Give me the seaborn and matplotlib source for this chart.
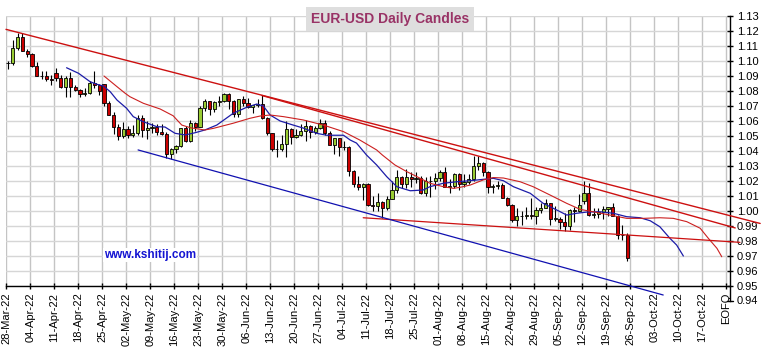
import numpy as np
import matplotlib
matplotlib.use("Agg")
import matplotlib.pyplot as plt
import matplotlib.transforms as mtransforms
import seaborn as sns

# EUR-USD daily OHLC, one entry per weekday from 28-Mar-22 to 23-Sep-22
opens = [1.0985, 1.0987, 1.1087, 1.1159, 1.1067, 1.1046, 1.0970, 1.0903, 1.0901, 1.0880,
         1.0920, 1.0887, 1.0828, 1.0888, 1.0826, 1.0810, 1.0779, 1.0787, 1.0853, 1.0838,
         1.0845, 1.0718, 1.0641, 1.0559, 1.0500, 1.0544, 1.0507, 1.0523, 1.0621, 1.0541,
         1.0551, 1.0560, 1.0530, 1.0514, 1.0380, 1.0412, 1.0436, 1.0551, 1.0466, 1.0585,
         1.0563, 1.0690, 1.0734, 1.0677, 1.0724, 1.0732, 1.0781, 1.0733, 1.0650, 1.0749,
         1.0719, 1.0695, 1.0705, 1.0716, 1.0617, 1.0518, 1.0411, 1.0415, 1.0446, 1.0547,
         1.0495, 1.0508, 1.0536, 1.0565, 1.0525, 1.0553, 1.0584, 1.0520, 1.0442, 1.0484,
         1.0427, 1.0424, 1.0266, 1.0181, 1.0161, 1.0180, 1.0040, 1.0036, 1.0060, 1.0020,
         1.0081, 1.0142, 1.0226, 1.0180, 1.0229, 1.0213, 1.0222, 1.0119, 1.0200, 1.0197,
         1.0221, 1.0260, 1.0163, 1.0167, 1.0246, 1.0181, 1.0196, 1.0212, 1.0298, 1.0321,
         1.0258, 1.0160, 1.0170, 1.0174, 1.0089, 1.0039, 0.9942, 0.9969, 0.9966, 0.9973,
         0.9966, 1.0004, 1.0018, 1.0055, 0.9946, 0.9950, 0.9927, 0.9903, 1.0010, 0.9997,
         1.0065, 1.0122, 0.9975, 0.9980, 0.9996, 1.0015, 1.0027, 0.9970, 0.9838, 0.9837]
highs = [1.1000, 1.1137, 1.1185, 1.1184, 1.1077, 1.1054, 1.0994, 1.0936, 1.0935, 1.0905,
         1.0955, 1.0904, 1.0897, 1.0924, 1.0839, 1.0815, 1.0819, 1.0869, 1.0936, 1.0848,
         1.0850, 1.0736, 1.0658, 1.0582, 1.0594, 1.0566, 1.0576, 1.0641, 1.0642, 1.0599,
         1.0590, 1.0578, 1.0577, 1.0530, 1.0420, 1.0441, 1.0556, 1.0565, 1.0607, 1.0594,
         1.0697, 1.0749, 1.0736, 1.0734, 1.0765, 1.0787, 1.0785, 1.0737, 1.0750, 1.0764,
         1.0752, 1.0710, 1.0748, 1.0774, 1.0625, 1.0520, 1.0474, 1.0506, 1.0601, 1.0551,
         1.0545, 1.0582, 1.0606, 1.0576, 1.0569, 1.0615, 1.0606, 1.0536, 1.0486, 1.0486,
         1.0464, 1.0436, 1.0276, 1.0232, 1.0187, 1.0184, 1.0097, 1.0122, 1.0066, 1.0097,
         1.0200, 1.0272, 1.0232, 1.0278, 1.0258, 1.0258, 1.0234, 1.0224, 1.0234, 1.0254,
         1.0275, 1.0294, 1.0214, 1.0254, 1.0252, 1.0248, 1.0250, 1.0368, 1.0364, 1.0324,
         1.0266, 1.0183, 1.0202, 1.0188, 1.0095, 1.0044, 1.0018, 0.9999, 1.0030, 1.0090,
         1.0028, 1.0055, 1.0080, 1.0056, 1.0033, 0.9960, 0.9989, 1.0012, 1.0030, 1.0113,
         1.0198, 1.0185, 1.0020, 1.0018, 1.0036, 1.0030, 1.0051, 0.9975, 0.9907, 0.9853]
lows = [1.0945, 1.0975, 1.1075, 1.1065, 1.1028, 1.0962, 1.0900, 1.0877, 1.0866, 1.0837,
        1.0870, 1.0820, 1.0757, 1.0759, 1.0797, 1.0758, 1.0769, 1.0781, 1.0818, 1.0772,
        1.0698, 1.0637, 1.0515, 1.0471, 1.0490, 1.0490, 1.0491, 1.0504, 1.0493, 1.0483,
        1.0523, 1.0510, 1.0508, 1.0354, 1.0350, 1.0389, 1.0430, 1.0460, 1.0460, 1.0533,
        1.0557, 1.0667, 1.0642, 1.0660, 1.0698, 1.0727, 1.0680, 1.0627, 1.0629, 1.0700,
        1.0688, 1.0653, 1.0693, 1.0615, 1.0506, 1.0398, 1.0358, 1.0398, 1.0360, 1.0444,
        1.0484, 1.0501, 1.0469, 1.0485, 1.0514, 1.0549, 1.0506, 1.0437, 1.0383, 1.0366,
        1.0405, 1.0235, 1.0162, 1.0143, 1.0072, 1.0033, 1.0000, 0.9998, 0.9952, 1.0008,
        1.0078, 1.0123, 1.0153, 1.0153, 1.0162, 1.0188, 1.0112, 1.0098, 1.0096, 1.0145,
        1.0199, 1.0159, 1.0123, 1.0153, 1.0141, 1.0159, 1.0183, 1.0200, 1.0276, 1.0235,
        1.0122, 1.0122, 1.0150, 1.0084, 1.0034, 0.9927, 0.9901, 0.9910, 0.9950, 0.9949,
        0.9915, 0.9990, 1.0018, 0.9910, 0.9935, 0.9877, 0.9864, 0.9875, 0.9930, 0.9995,
        1.0050, 0.9966, 0.9954, 0.9956, 0.9945, 0.9966, 0.9965, 0.9811, 0.9807, 0.9668]
closes = [1.0987, 1.1087, 1.1159, 1.1067, 1.1046, 1.0970, 1.0903, 1.0901, 1.0880, 1.0876,
          1.0887, 1.0828, 1.0888, 1.0826, 1.0810, 1.0779, 1.0787, 1.0853, 1.0838, 1.0799,
          1.0718, 1.0641, 1.0559, 1.0500, 1.0544, 1.0507, 1.0523, 1.0621, 1.0541, 1.0551,
          1.0560, 1.0530, 1.0514, 1.0380, 1.0412, 1.0436, 1.0551, 1.0466, 1.0585, 1.0563,
          1.0690, 1.0734, 1.0677, 1.0724, 1.0732, 1.0781, 1.0733, 1.0650, 1.0749, 1.0719,
          1.0695, 1.0705, 1.0716, 1.0617, 1.0518, 1.0411, 1.0415, 1.0446, 1.0547, 1.0495,
          1.0508, 1.0536, 1.0565, 1.0525, 1.0553, 1.0584, 1.0520, 1.0442, 1.0484, 1.0427,
          1.0424, 1.0266, 1.0181, 1.0161, 1.0180, 1.0040, 1.0036, 1.0060, 1.0020, 1.0081,
          1.0142, 1.0226, 1.0180, 1.0229, 1.0213, 1.0222, 1.0119, 1.0200, 1.0197, 1.0221,
          1.0260, 1.0163, 1.0167, 1.0246, 1.0181, 1.0196, 1.0212, 1.0298, 1.0321, 1.0258,
          1.0160, 1.0170, 1.0174, 1.0089, 1.0039, 0.9942, 0.9969, 0.9966, 0.9973, 0.9966,
          1.0004, 1.0018, 1.0055, 0.9946, 0.9953, 0.9927, 0.9903, 1.0010, 0.9997, 1.0041,
          1.0122, 0.9975, 0.9980, 0.9996, 1.0015, 1.0027, 0.9970, 0.9838, 0.9837, 0.9690]

# weekly axis labels (Mondays), the last slot marks end of quarter
week_labels = ["28-Mar-22", "04-Apr-22", "11-Apr-22", "18-Apr-22", "25-Apr-22",
               "02-May-22", "09-May-22", "16-May-22", "23-May-22", "30-May-22",
               "06-Jun-22", "13-Jun-22", "20-Jun-22", "27-Jun-22", "04-Jul-22",
               "11-Jul-22", "18-Jul-22", "25-Jul-22", "01-Aug-22", "08-Aug-22",
               "15-Aug-22", "22-Aug-22", "29-Aug-22", "05-Sep-22", "12-Sep-22",
               "19-Sep-22", "26-Sep-22", "03-Oct-22", "10-Oct-22", "17-Oct-22", "EOFQ"]
price_ticks = [0.95, 0.96, 0.97, 0.98, 0.99, 1.00, 1.01, 1.02, 1.03, 1.04,
               1.05, 1.06, 1.07, 1.08, 1.09, 1.10, 1.11, 1.12, 1.13]
extra_tick = 0.94

# displaced moving averages (position in trading days, level)
fast_ma_x = [12.2, 14.7, 17.1, 18.5, 19.9, 21.3, 22.7, 24.7, 26.1, 28.2, 31.0, 32.7, 34.8,
             36.9, 39.0, 41.0, 43.5, 46.9, 49.7, 51.8, 53.2, 54.6, 56.7, 59.4, 61.5, 64.3,
             66.4, 69.9, 71.3, 72.6, 74.7, 76.8, 78.9, 81.0, 83.8, 86.5, 87.9, 90.7, 93.5,
             96.3, 99.0, 101.1, 103.2, 105.3, 108.8, 111.5, 114.3, 116.4, 118.5, 120.6,
             123.3, 126.1, 128.9, 131.7, 133.8, 135.8, 137.9, 139.3, 140.7]
fast_ma_y = [1.0955, 1.0918, 1.0862, 1.0845, 1.0833, 1.0795, 1.0740, 1.0685, 1.0629, 1.0595,
             1.0562, 1.0560, 1.0518, 1.0507, 1.0522, 1.0540, 1.0573, 1.0651, 1.0691, 1.0713,
             1.0700, 1.0640, 1.0600, 1.0573, 1.0553, 1.0518, 1.0505, 1.0505, 1.0473, 1.0453,
             1.0373, 1.0307, 1.0229, 1.0162, 1.0135, 1.0140, 1.0162, 1.0185, 1.0195, 1.0202,
             1.0211, 1.0218, 1.0202, 1.0162, 1.0118, 1.0051, 1.0007, 0.9973, 0.9985, 0.9993,
             0.9995, 0.9985, 0.9962, 0.9955, 0.9935, 0.9895, 0.9818, 0.9773, 0.9700]
slow_ma_x = [20.0, 22.7, 24.4, 25.4, 28.2, 31.7, 34.4, 36.2, 38.0, 41.0, 42.8, 46.9, 50.4,
             52.5, 54.6, 57.4, 61.5, 65.7, 69.9, 73.3, 76.8, 78.0, 80.6, 83.1, 85.2, 87.9,
             90.7, 92.8, 94.2, 96.3, 99.0, 101.1, 103.2, 106.7, 109.4, 112.9, 116.4, 119.2,
             121.9, 125.4, 128.9, 132.4, 135.8, 138.6, 141.4, 144.2, 145.9, 147.7, 148.7]
slow_ma_y = [1.0900, 1.0829, 1.0785, 1.0762, 1.0718, 1.0680, 1.0635, 1.0573, 1.0555, 1.0540,
             1.0551, 1.0585, 1.0618, 1.0633, 1.0640, 1.0629, 1.0607, 1.0573, 1.0529, 1.0473,
             1.0407, 1.0373, 1.0307, 1.0262, 1.0229, 1.0185, 1.0162, 1.0151, 1.0158, 1.0173,
             1.0207, 1.0223, 1.0220, 1.0195, 1.0162, 1.0107, 1.0051, 1.0011, 0.9995, 0.9973,
             0.9951, 0.9951, 0.9955, 0.9951, 0.9929, 0.9885, 0.9818, 0.9751, 0.9695]

# trend lines: (start day, end day) and (start level, end level)
resist_a_x, resist_a_y = [-0.42, 156.7], [1.1211, 0.9917]
resist_b_x, resist_b_y = [52.9, 151.5], [1.0770, 0.9887]
support_x, support_y = [74.0, 152.5], [0.9955, 0.9791]
channel_x, channel_y = [27.1, 136.5], [1.0407, 0.9440]

GREEN = "#99cc33"
RED = "#cc0000"

sns.set_theme(style="white")
plt.rcParams["font.family"] = ["Liberation Sans", "DejaVu Sans"]

fig = plt.figure(figsize=(7.64, 3.49), dpi=100)
ax = fig.add_axes([6 / 764, 63 / 349, 724 / 764, 270 / 349])

o = np.array(opens)
h = np.array(highs)
l = np.array(lows)
c = np.array(closes)
x = np.arange(len(o))
rising = c >= o

# candles: wicks then bodies
ax.vlines(x, l, h, color="black", linewidth=0.8, zorder=2)
body_bottom = np.minimum(o, c)
body_height = np.maximum(np.abs(c - o), 0.00004)
ax.bar(x, body_height, bottom=body_bottom, width=0.64,
       color=np.where(rising, GREEN, RED), edgecolor="black",
       linewidth=0.6, zorder=3)

# moving averages
sns.lineplot(x=fast_ma_x, y=fast_ma_y, ax=ax, color="#1c1ca8", linewidth=0.9,
             sort=False, estimator=None, zorder=4)
sns.lineplot(x=slow_ma_x, y=slow_ma_y, ax=ax, color="#cc2020", linewidth=0.8,
             sort=False, estimator=None, zorder=4)

# trend lines
for tx, ty, col, lw in [(resist_a_x, resist_a_y, "#cc1010", 1.0),
                        (resist_b_x, resist_b_y, "#cc1010", 1.0),
                        (support_x, support_y, "#cc1010", 0.9),
                        (channel_x, channel_y, "#1010b0", 0.9)]:
    sns.lineplot(x=tx, y=ty, ax=ax, color=col, linewidth=lw, sort=False,
                 estimator=None, zorder=5, clip_on=False)

# axes, ticks, grid
ax.set_xlim(-0.4167, 150.4167)
ax.set_ylim(0.95, 1.13)
week_pos = [5 * k - 0.35 for k in range(len(week_labels))]
ax.set_xticks(week_pos)
ax.set_xticklabels(week_labels, rotation=90, fontsize=8)
ax.set_yticks(price_ticks)
ax.set_yticklabels([f"{v:.2f}" for v in price_ticks], fontsize=8)
ax.yaxis.tick_right()
ax.tick_params(axis="y", direction="inout", length=4.5, width=1, pad=2.8,
               colors="black", right=True, left=False)
ax.tick_params(axis="x", direction="inout", length=5, width=1, pad=2.2,
               colors="black", bottom=True)
ax.set_axisbelow(True)
ax.grid(axis="x", color="#c4c4c4", linewidth=1.0)
ax.grid(axis="y", color="#d6d6d6", linewidth=1.0)
for side in ("top", "left"):
    ax.spines[side].set_visible(False)
for side in ("right", "bottom"):
    ax.spines[side].set_color("black")
    ax.spines[side].set_linewidth(1.0)
ax.spines["right"].set_bounds(extra_tick, price_ticks[-1])
ax.set_xlabel("")
ax.set_ylabel("")

# the 0.94 level sits just below the date axis
trans = mtransforms.blended_transform_factory(ax.transAxes, ax.transData)
ax.plot([1 - 3 / 724, 1 + 3 / 724], [extra_tick, extra_tick], color="black",
        linewidth=1, transform=trans, clip_on=False)
ax.annotate(f"{extra_tick:.2f}", xy=(1, extra_tick), xycoords=trans,
            xytext=(5, 0), textcoords="offset points", ha="left", va="center",
            fontsize=8, color="black", annotation_clip=False)

fig.text(390 / 764, 1 - 19 / 349, "EUR-USD Daily Candles", ha="center", va="center",
         fontsize=10, fontweight="bold", color="#993366",
         bbox=dict(facecolor="#dedede", edgecolor="none", boxstyle="square,pad=0.35"))
ax.text(0.199, 0.115, "www.kshitij.com", transform=ax.transAxes, ha="center",
        va="center", fontsize=8.5, fontweight="bold", color="#1414d2", zorder=6,
        bbox=dict(facecolor="white", edgecolor="none", boxstyle="square,pad=0.1"))

fig.savefig("out.png", dpi=100, facecolor="white")
